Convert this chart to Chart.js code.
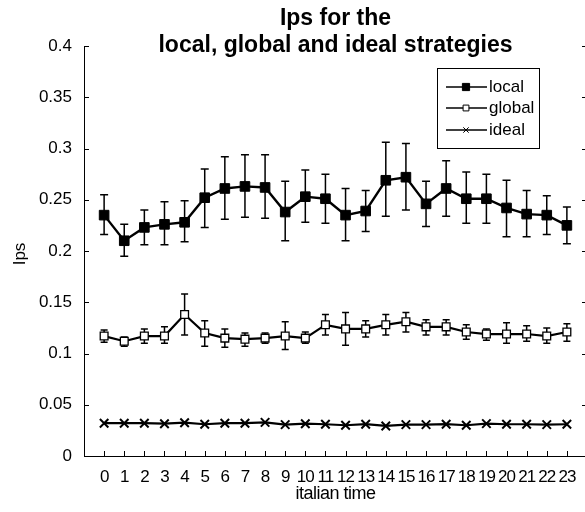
<!DOCTYPE html>
<html><head><meta charset="utf-8">
<script src="https://cdn.jsdelivr.net/npm/chart.js@4.4.0/dist/chart.umd.min.js"></script>
<style>html,body{margin:0;padding:0;overflow:hidden;background:#fff;width:585px;height:512px}canvas{display:block}</style>
</head><body><canvas id="c" width="600" height="512"></canvas>
<script>
const hours = [0,1,2,3,4,5,6,7,8,9,10,11,12,13,14,15,16,17,18,19,20,21,22,23];
const localVals = [0.235,0.210,0.223,0.226,0.228,0.252,0.261,0.263,0.262,0.238,0.253,0.251,0.235,0.239,0.269,0.272,0.246,0.261,0.251,0.251,0.242,0.236,0.235,0.225];
const localLow  = [0.216,0.195,0.206,0.206,0.209,0.223,0.231,0.233,0.232,0.210,0.228,0.227,0.210,0.219,0.234,0.240,0.224,0.234,0.227,0.227,0.214,0.214,0.216,0.207];
const localHigh = [0.255,0.226,0.240,0.248,0.249,0.280,0.292,0.294,0.294,0.268,0.279,0.275,0.261,0.259,0.306,0.305,0.268,0.288,0.277,0.275,0.269,0.259,0.254,0.243];
const globalVals = [0.117,0.112,0.117,0.117,0.138,0.120,0.115,0.114,0.115,0.117,0.115,0.128,0.124,0.124,0.128,0.131,0.126,0.126,0.121,0.119,0.119,0.119,0.117,0.121];
const globalLow  = [0.111,0.107,0.110,0.110,0.118,0.107,0.106,0.107,0.110,0.104,0.110,0.118,0.108,0.116,0.118,0.121,0.118,0.118,0.114,0.113,0.110,0.112,0.110,0.112];
const globalHigh = [0.123,0.116,0.124,0.126,0.158,0.132,0.124,0.120,0.120,0.131,0.121,0.138,0.140,0.132,0.138,0.140,0.133,0.133,0.128,0.124,0.130,0.127,0.125,0.129];
const idealVals = [0.032,0.032,0.032,0.0315,0.0325,0.031,0.032,0.032,0.0328,0.0306,0.0315,0.031,0.030,0.031,0.0293,0.0306,0.0306,0.031,0.030,0.0316,0.031,0.031,0.0306,0.031];
const yTicks = [0,0.05,0.1,0.15,0.2,0.25,0.3,0.35,0.4];
const titleLines = ['Ips for the','local, global and ideal strategies'];
const xLabel = 'italian time';
const yLabel = 'Ips';
const seriesNames = ['local','global','ideal'];

const FONT = '"Liberation Sans", Arial, Helvetica, sans-serif';
const pts = arr => hours.map((h,i)=>({x:h,y:arr[i]}));
const errSets = [{lo:localLow,hi:localHigh,cap:4},{lo:globalLow,hi:globalHigh,cap:3.5}];

const tightX = {
  id:'tightX',
  afterUpdate(chart){
    const s = chart.scales.x;
    if (s && !s._tight) {
      const orig = s.drawLabels.bind(s);
      s.drawLabels = function(area){
        const c = this.ctx; c.save();
        try { c.letterSpacing = '-1px'; } catch(e) {}
        orig(area); c.restore();
      };
      s._tight = true;
    }
  }
};

const errorBars = {
  id:'errorBars',
  beforeDatasetsDraw(chart){
    const {ctx, scales:{x,y}} = chart;
    ctx.save();
    ctx.strokeStyle='#000'; ctx.lineWidth=1.5;
    errSets.forEach(s=>{
      hours.forEach((h,i)=>{
        const px=x.getPixelForValue(h), p1=y.getPixelForValue(s.lo[i]), p2=y.getPixelForValue(s.hi[i]);
        ctx.beginPath();
        ctx.moveTo(px,p1); ctx.lineTo(px,p2);
        ctx.moveTo(px-s.cap,p1); ctx.lineTo(px+s.cap,p1);
        ctx.moveTo(px-s.cap,p2); ctx.lineTo(px+s.cap,p2);
        ctx.stroke();
      });
    });
    ctx.restore();
  }
};

const decor = {
  id:'decor',
  afterDraw(chart){
    const {ctx, chartArea:a, scales:{x,y}} = chart;
    const cx = (a.left+a.right)/2;
    ctx.save();
    ctx.strokeStyle='#000'; ctx.lineWidth=1;
    ctx.beginPath();
    yTicks.forEach(v=>{
      const py=Math.round(y.getPixelForValue(v))+0.5;
      ctx.moveTo(a.left,py); ctx.lineTo(a.left+5,py);
      ctx.moveTo(a.right-5,py); ctx.lineTo(a.right,py);
    });
    hours.forEach(h=>{
      const px=Math.round(x.getPixelForValue(h))+0.5;
      ctx.moveTo(px,a.bottom); ctx.lineTo(px,a.bottom-5);
    });
    ctx.stroke();
    // title
    ctx.fillStyle='#000';
    ctx.textAlign='center'; ctx.textBaseline='middle';
    ctx.font='bold 23px '+FONT;
    ctx.fillText(titleLines[0],cx,19);
    ctx.fillText(titleLines[1],cx,46);
    // axis labels
    ctx.font='18px '+FONT;
    try { ctx.letterSpacing='-0.5px'; } catch(e) {}
    ctx.fillText(xLabel,cx,494);
    try { ctx.letterSpacing='0px'; } catch(e) {}
    ctx.font='17px '+FONT;
    ctx.save();
    ctx.translate(20,254); ctx.rotate(-Math.PI/2);
    ctx.fillText(yLabel,0,0);
    ctx.restore();
    // legend
    const lx=437, ly=68, lw=102, lh=80;
    ctx.fillStyle='#fff'; ctx.fillRect(lx,ly,lw,lh);
    ctx.strokeStyle='#000'; ctx.lineWidth=1;
    ctx.strokeRect(lx+0.5,ly+0.5,lw,lh);
    const rows=[87,108,130];
    chart.data.datasets.forEach((ds,i)=>{
      const ry=rows[i];
      ctx.strokeStyle='#000'; ctx.lineWidth=1.5;
      ctx.beginPath(); ctx.moveTo(446,ry); ctx.lineTo(487,ry); ctx.stroke();
      ctx.fillStyle=ds.pointBackgroundColor; ctx.strokeStyle='#000'; ctx.lineWidth=1;
      ctx.beginPath();
      const st = ds.pointStyle, r = ds.pointRadius*0.75;
      if(st==='rect'){const s=r*Math.SQRT1_2; ctx.rect(466-s,ry-s,2*s,2*s); ctx.fill(); ctx.stroke();}
      else {const k=r*0.6; ctx.moveTo(466-k,ry-k);ctx.lineTo(466+k,ry+k);ctx.moveTo(466+k,ry-k);ctx.lineTo(466-k,ry+k);ctx.stroke();}
      ctx.fillStyle='#000'; ctx.textAlign='left'; ctx.font='17px '+FONT;
      ctx.fillText(ds.label,489,ry);
    });
    ctx.restore();
  }
};

new Chart(document.getElementById('c'),{
  type:'line',
  data:{datasets:[
    {label:seriesNames[0],data:pts(localVals),borderColor:'#000',borderWidth:2.4,pointStyle:'rect',pointRadius:6.8,pointBackgroundColor:'#000',pointBorderColor:'#000',pointBorderWidth:1,tension:0},
    {label:seriesNames[1],data:pts(globalVals),borderColor:'#000',borderWidth:2.2,pointStyle:'rect',pointRadius:5.5,pointBackgroundColor:'#fff',pointBorderColor:'#000',pointBorderWidth:1.3,tension:0},
    {label:seriesNames[2],data:pts(idealVals),borderColor:'#000',borderWidth:2.2,pointStyle:'crossRot',pointRadius:6,pointBackgroundColor:'#000',pointBorderColor:'#000',pointBorderWidth:2,tension:0}
  ]},
  options:{
    responsive:false, animation:false, devicePixelRatio:1,
    layout:{padding:{top:46,right:13,left:0,bottom:0}},
    plugins:{legend:{display:false},title:{display:false},tooltip:{enabled:false}},
    scales:{
      x:{type:'linear',min:-1,max:24,
        afterFit(s){s.height=56;},
        grid:{display:false,drawTicks:false},
        border:{display:true,color:'#000',width:1},
        ticks:{stepSize:1,autoSkip:false,maxRotation:0,padding:11,color:'#000',font:{family:FONT,size:17},
          callback:v=>(v>=0&&v<=23)?String(v):''}},
      y:{min:0,max:0.4,
        afterFit(s){s.width=84;},
        afterBuildTicks(s){s.ticks=yTicks.map(v=>({value:v}));},
        grid:{display:false,drawTicks:false},
        border:{display:true,color:'#000',width:1},
        ticks:{padding:12,color:'#000',font:{family:FONT,size:17},
          callback:v=>String(parseFloat(Number(v).toFixed(2)))}}
    }
  },
  plugins:[tightX,errorBars,decor]
});
</script></body></html>
